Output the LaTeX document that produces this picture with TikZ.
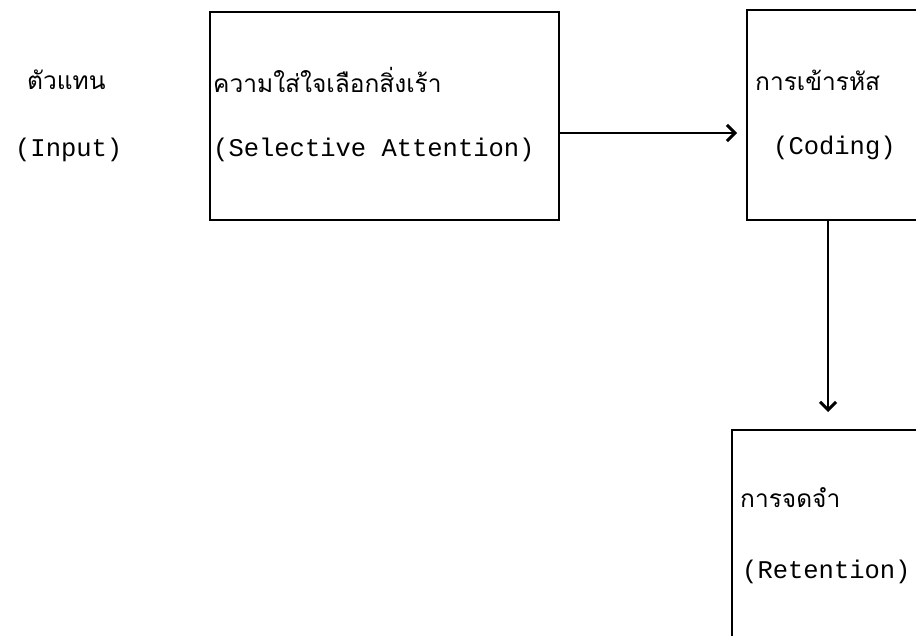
\documentclass[tikz,border=0pt]{standalone}
\usepackage{fontspec}
\setmonofont{Liberation Mono}
\newfontfamily\thaifont[Script=Thai]{Loma}
\usetikzlibrary{arrows.meta}
\begin{document}
\begin{tikzpicture}[x=1pt,y=-1pt,
  box/.style={draw,line width=1.7pt,inner sep=0pt,anchor=north west},
  th/.style={font=\thaifont\fontsize{24.5}{28}\selectfont,anchor=west,inner sep=0pt},
  en/.style={font=\ttfamily\fontsize{25.5}{30}\selectfont,anchor=west,inner sep=0pt},
  arr/.style={line width=2pt,-{Straight Barb[length=8pt,width=16pt,line width=3pt]}}]
\useasboundingbox (0,0) rectangle (916,636);
\clip (0,0) rectangle (916,636);
\node[box,minimum width=349pt,minimum height=208pt] (b1) at (209,11) {};
\node[box,minimum width=200pt,minimum height=210pt] (b2) at (746,9) {};
\node[box,minimum width=220pt,minimum height=230pt] (b3) at (731,429) {};
\node[th] (t0) at (27,80) {ตัวแทน};
\node[en] (e0) at (15,150) {(Input)};
\node[th] (t1) at (213,80) {ความใส่ใจเลือกสิ่งเร้า};
\node[en] (e1) at (213,150) {(Selective Attention)};
\node[th] (t2) at (755,80) {การเข้ารหัส};
\node[en] (e2) at (773,148) {(Coding)};
\node[th] (t3) at (740,498) {การจดจำ};
\node[en] (e3) at (742,572) {(Retention)};
\coordinate (h) at (0,133);
\coordinate (v) at (828,0);
\draw[arr,shorten >=9pt] (b1.east |- h) -- (b2.west |- h);
\draw[arr,shorten >=17pt] (b2.south -| v) -- (b3.north -| v);
\end{tikzpicture}
\end{document}
